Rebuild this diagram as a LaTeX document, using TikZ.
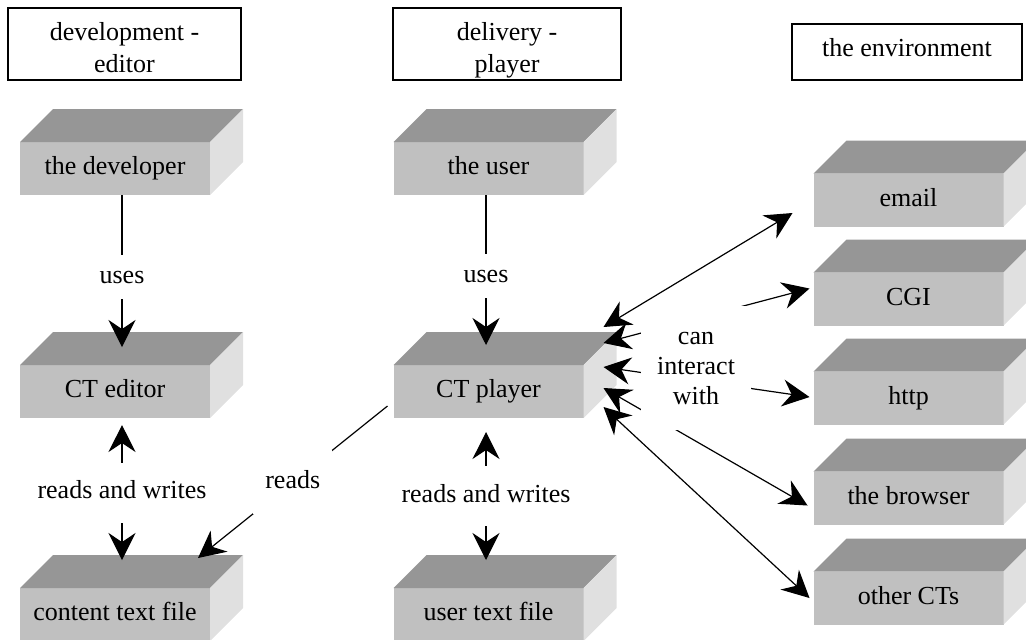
\documentclass[tikz,border=0pt]{standalone}
\usepackage{fontspec}
\setmainfont{Liberation Serif}
\usetikzlibrary{positioning,arrows.meta}
\definecolor{frontgray}{RGB}{192,192,192}
\definecolor{topgray}{RGB}{150,150,150}
\definecolor{sidegray}{RGB}{224,224,224}

\begin{document}
\begin{tikzpicture}[x=0.5pt,y=-0.5pt,
  font=\fontsize{13}{16}\selectfont,
  >={Stealth[length=13.5pt,width=13.5pt,inset=4.5pt]},
  slab/.style={fill=frontgray, minimum width=95pt, minimum height=26.5pt,
    inner sep=0pt, outer sep=0pt, text height=9pt, text depth=3pt},
  header/.style={draw, line width=0.65pt, align=center, inner sep=0pt},
  lbl/.style={fill=white, inner xsep=4pt, text height=9pt, text depth=3pt},
  link/.style={line width=0.6pt}]
  \useasboundingbox (0,0) rectangle (1026,639);

  % Column headings
  \node[header, minimum width=116.5pt, minimum height=36pt, text height=28pt, text depth=0pt]
    (hdev) at (124.5,44) {development -\\editor};
  \node[header, minimum width=114pt, minimum height=36pt, text height=28pt, text depth=0pt]
    (hdel) at (507,44) {delivery -\\player};
  \node[header, minimum width=115pt, minimum height=28pt, text height=9pt, text depth=5pt]
    (henv) at (907,52) {the environment};

  % Front faces of the slabs
  \node[slab] (developer) at (115,168.5) {the developer};
  \node[slab] (editor) at (115,391.5) {CT editor};
  \node[slab] (textfile) at (115,614.5) {content text file};
  \node[slab] (user) at (488.5,168.5) {the user};
  \node[slab] (player) at (488.5,391.5) {CT player};
  \node[slab] (userfile) at (488.5,614.5) {user text file};
  \node[slab] (email) at (908.5,200) {email};
  \node[slab, below=23pt of email] (cgi) {CGI};
  \node[slab, below=23pt of cgi] (http) {http};
  \node[slab, below=23.5pt of http] (browser) {the browser};
  \node[slab, below=23.5pt of browser] (others) {other CTs};

  % Top and side faces
  \foreach \b in {developer,editor,textfile,user,player,userfile,email,cgi,http,browser,others} {
    \fill[topgray] (\b.north west) -- ++(16.5pt,16.5pt)
      -- ([shift={(16.5pt,16.5pt)}]\b.north east) -- (\b.north east) -- cycle;
    \fill[sidegray] (\b.north east) -- ++(16.5pt,16.5pt)
      -- ([shift={(16.5pt,16.5pt)}]\b.south east) -- (\b.south east) -- cycle;
  }

  % Editor side
  \draw[link, ->] ([xshift=3.5pt]developer.south)
    -- node[lbl, inner ysep=5pt, pos=0.54] {uses} ([xshift=3.5pt, yshift=9pt]editor.north);
  \draw[link, <->] ([xshift=3.5pt, yshift=-3.5pt]editor.south)
    -- node[lbl, inner ysep=9pt] {reads and writes} ([xshift=3.5pt, yshift=14pt]textfile.north);

  % Player side
  \draw[link, ->] ([xshift=-1.25pt]user.south)
    -- node[lbl, inner ysep=5pt, pos=0.54] {uses} ([xshift=-1.25pt, yshift=10pt]player.north);
  \draw[link, <->] ([xshift=-1.25pt, yshift=-7pt]player.south)
    -- node[lbl, inner ysep=9pt] {reads and writes} ([xshift=-1.25pt, yshift=14pt]userfile.north);
  \draw[link, ->] ([xshift=-3pt, yshift=-7.25pt]player.west)
    -- node[lbl, inner xsep=6pt, inner ysep=10pt] {reads} ([xshift=-6pt, yshift=15pt]textfile.north east);

  % Environment
  \draw[link, <->] ([xshift=10pt, yshift=32.25pt]player.east) -- ([xshift=-10.5pt, yshift=-6.5pt]email.west);
  \draw[link, <->] ([xshift=10pt, yshift=24.25pt]player.east) -- ([xshift=-2pt, yshift=5.25pt]cgi.west);
  \draw[link, <->] ([xshift=10pt, yshift=12.25pt]player.east) -- ([xshift=-2pt, yshift=0.5pt]http.west);
  \draw[link, <->] ([xshift=10pt, yshift=1.75pt]player.east) -- ([xshift=-3pt, yshift=-3.75pt]browser.west);
  \draw[link, <->] ([xshift=10pt, yshift=-7.75pt]player.east) -- ([xshift=-2pt]others.west);
  \node[fill=white, align=center, font=\fontsize{13}{15}\selectfont,
    minimum width=55pt, minimum height=62pt, inner sep=0pt] (interact) at (696,368) {can\\interact\\with};
\end{tikzpicture}
\end{document}
